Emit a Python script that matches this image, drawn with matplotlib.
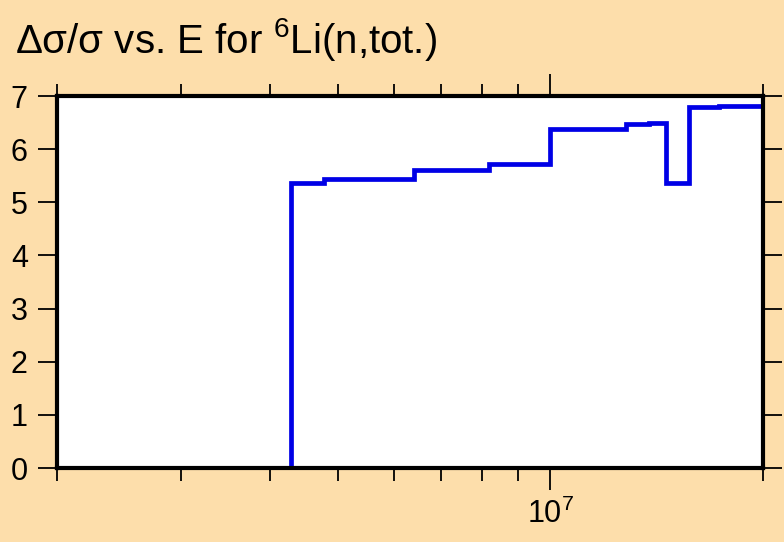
import numpy as np
import matplotlib
matplotlib.use('Agg')
import matplotlib.pyplot as plt
from matplotlib.ticker import LogLocator, FixedLocator, NullFormatter

plt.rcParams['font.family'] = ['Liberation Sans', 'DejaVu Sans']
plt.rcParams['mathtext.default'] = 'regular'

# energy bin edges (eV) and relative uncertainty (%)
edges = [4.29e6, 4.78e6, 6.41e6, 8.19e6, 1.0e7, 1.28e7, 1.38e7, 1.456e7, 1.57e7, 1.73e7, 2.0e7]
values = [5.36, 5.44, 5.61, 5.72, 6.38, 6.47, 6.49, 5.36, 6.79, 6.81]

bg = '#fddeab'
fig = plt.figure(figsize=(7.84, 5.42), dpi=100, facecolor=bg)
ax = fig.add_axes([57 / 784, 1 - 468 / 542, (763 - 57) / 784, (468 - 96) / 542])
ax.set_facecolor('white')

ax.stairs(values, edges, baseline=0, fill=False, color='#0000e6', lw=3.4)

ax.set_xscale('log')
ax.set_xlim(2e6, 2e7)
ax.set_ylim(0, 7)
ax.set_yticks(range(0, 8))
ax.xaxis.set_major_locator(FixedLocator([1e7]))
ax.xaxis.set_minor_locator(LogLocator(base=10, subs=np.arange(2, 10)))
ax.xaxis.set_minor_formatter(NullFormatter())

for s in ax.spines.values():
    s.set_linewidth(3)
    s.set_zorder(5)

ax.tick_params(axis='y', which='major', direction='out', length=14, width=1.3,
               labelsize=22, pad=7, left=True, right=True)
ax.tick_params(axis='x', which='major', direction='out', length=16, width=1.3,
               labelsize=22, pad=6, top=True, bottom=True)
ax.tick_params(axis='x', which='minor', direction='out', length=9, width=1.3,
               top=True, bottom=True)

fig.text(15 / 784, 1 - 53 / 542, r'Δσ/σ vs. E for $^{6}$Li(n,tot.)',
         fontsize=29, va='baseline', ha='left')

fig.savefig('out.png', dpi=100, facecolor=bg)
